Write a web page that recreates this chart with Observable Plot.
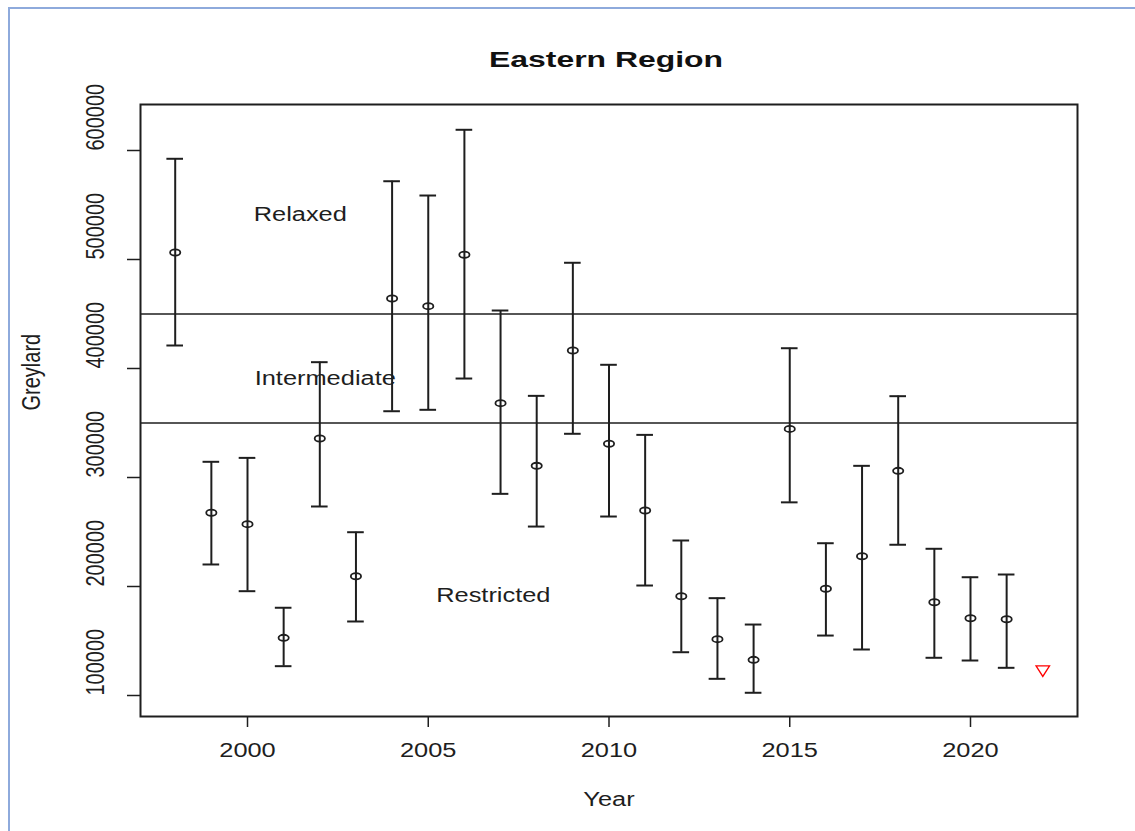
<!DOCTYPE html>
<html><head><meta charset="utf-8">
<script src="https://cdn.jsdelivr.net/npm/d3@7"></script>
<script src="https://cdn.jsdelivr.net/npm/@observablehq/plot@0.6"></script>
<style>
body{margin:0;background:#fff;font-family:"Liberation Sans",Arial,sans-serif;}
#wrap{position:relative;width:1135px;height:831px;overflow:hidden;background:#fff;}
#border{position:absolute;left:8px;top:7px;width:1200px;height:900px;border-left:2px solid #8eaadc;border-top:2px solid #8eaadc;z-index:2;pointer-events:none;}
#title{position:absolute;left:0;top:0;width:1135px;height:72px;}
#title span{position:absolute;left:606px;top:60px;transform:translate(-50%,-50%) scaleX(1.45);font-weight:bold;font-size:22px;color:#111;white-space:nowrap;}
#chart{position:absolute;left:0;top:72px;}
</style></head>
<body>
<div id="wrap">
  <div id="title"><span>Eastern Region</span></div>
  <div id="chart"></div>
  <div id="border"></div>
</div>
<script>
const years = [1998,1999,2000,2001,2002,2003,2004,2005,2006,2007,2008,2009,2010,2011,2012,2013,2014,2015,2016,2017,2018,2019,2020,2021];
const estimate = [506400,267600,257200,152900,335800,209400,464200,457200,504300,368200,310700,416500,330900,269700,191100,151700,132700,344600,197900,227800,306100,185600,170900,170000];
const lower = [421100,220200,195700,126900,273400,167900,360800,362100,390800,285000,255000,340100,264200,200900,139700,115300,102500,277200,155000,142200,238300,134600,132100,125400];
const upper = [592400,314400,318000,180500,405800,249800,571800,558700,619000,453200,374900,497000,403400,339100,242200,189300,165100,418600,239700,310700,374600,234600,208500,211000];
const projYear = [2022];
const projValue = [122300];
const thresholds = [450000, 350000];
const zoneLabels = ["Relaxed", "Intermediate", "Restricted"];
const zoneX = [2001.46, 2002.15, 2006.8];
const zoneY = [541000, 390800, 191300];
const xTicks = [2000, 2005, 2010, 2015, 2020];
const yTicks = [100000, 200000, 300000, 400000, 500000, 600000];

const rows = years.map((y, i) => ({year: y, est: estimate[i], lo: lower[i], hi: upper[i]}));
const proj = projYear.map((y, i) => ({year: y, value: projValue[i]}));
const zones = zoneLabels.map((t, i) => ({label: t, x: zoneX[i], y: zoneY[i]}));
const cap = 0.23;

const ellipse = {draw(ctx, size) {
  const r = Math.sqrt(size / Math.PI), rx = r * 1.65, ry = r, k = 0.5523;
  ctx.moveTo(rx, 0);
  ctx.bezierCurveTo(rx, ry * k, rx * k, ry, 0, ry);
  ctx.bezierCurveTo(-rx * k, ry, -rx, ry * k, -rx, 0);
  ctx.bezierCurveTo(-rx, -ry * k, -rx * k, -ry, 0, -ry);
  ctx.bezierCurveTo(rx * k, -ry, rx, -ry * k, rx, 0);
  ctx.closePath();
}};
const triDown = {draw(ctx, size) {
  const r = Math.sqrt(size / Math.PI), w = 1.35 * r, h = 1.05 * r;
  ctx.moveTo(-w, -h); ctx.lineTo(w, -h); ctx.lineTo(0, h); ctx.closePath();
}};

const ink = "#1e1e1e";
const plot = Plot.plot({
  width: 1135, height: 759,
  marginLeft: 140, marginRight: 58, marginTop: 32, marginBottom: 115,
  x: {domain: [1997.04, 2022.96]},
  y: {domain: [80734, 642200]},
  style: {fontFamily: "'Liberation Sans', Arial, sans-serif", fontSize: "20px", color: ink, background: "transparent"},
  marks: [
    Plot.ruleY(thresholds, {stroke: ink, strokeWidth: 1.5}),
    Plot.ruleX(rows, {x: "year", y1: "lo", y2: "hi", stroke: ink, strokeWidth: 2}),
    Plot.ruleY(rows, {y: "hi", x1: d => d.year - cap, x2: d => d.year + cap, stroke: ink, strokeWidth: 2}),
    Plot.ruleY(rows, {y: "lo", x1: d => d.year - cap, x2: d => d.year + cap, stroke: ink, strokeWidth: 2}),
    Plot.dot(rows, {x: "year", y: "est", r: 3.1, symbol: ellipse, stroke: ink, strokeWidth: 1.8, fill: "none"}),
    Plot.dot(proj, {x: "year", y: "value", r: 5, symbol: triDown, stroke: "#ff0000", strokeWidth: 1.3, fill: "none"}),
    Plot.text(zones, {x: "x", y: "y", text: "label", fill: ink}),
    Plot.axisX(xTicks, {tickSize: 11, stroke: ink, strokeWidth: 1.5, fill: "none", label: null}),
    Plot.axisY(yTicks, {tickSize: 13, stroke: ink, strokeWidth: 1.5, fill: "none", label: null}),
    Plot.text(xTicks, {x: d => d, frameAnchor: "bottom", dy: 40, text: d => String(d), fill: ink}),
    Plot.text(yTicks, {y: d => d, frameAnchor: "left", dx: -45, rotate: -90, text: d => String(d), fill: ink}),
    Plot.text(["Year"], {frameAnchor: "bottom", dy: 89, text: d => d, fill: ink}),
    Plot.text(["Greylard"], {frameAnchor: "left", dx: -109, rotate: -90, text: d => d, fill: ink}),
    Plot.frame({stroke: ink, strokeWidth: 2})
  ]
});
document.getElementById("chart").append(plot);
plot.querySelectorAll("text").forEach(t => {
  if (!t.textContent) return;
  const own = t.getAttribute("transform") || "";
  const par = t.parentNode.getAttribute("transform") || "";
  if (own.includes("rotate")) { t.setAttribute("transform", own + " scale(1,1.27)"); return; }
  if (par.includes("rotate")) return;
  const L = t.getComputedTextLength();
  t.setAttribute("textLength", (L * 1.27).toFixed(1));
  t.setAttribute("lengthAdjust", "spacingAndGlyphs");
});
</script>
</body></html>
